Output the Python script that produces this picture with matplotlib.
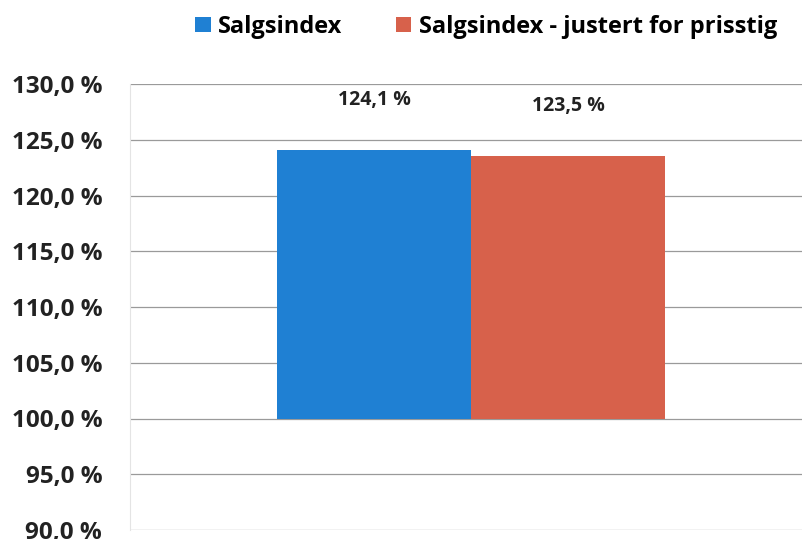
import matplotlib.pyplot as plt
import numpy as np

# verdier lest av figuren
serier = ["Salgsindex", "Salgsindex - justert for prisstig"]
verdier = [124.1, 123.5]
farger = ["#1f80d3", "#d7614b"]
yticks = [90, 95, 100, 105, 110, 115, 120, 125, 130]
basis = 100

plt.rcParams['font.family'] = ['Open Sans', 'DejaVu Sans']
plt.rcParams['font.weight'] = 'bold'

fig = plt.figure(figsize=(8.03, 5.39), dpi=100)
ax = fig.add_axes([130/803, 9/539, 682/803, 446/539])

bredde = 0.569
pos = [-bredde/2, bredde/2]
for i in range(len(serier)):
    ax.bar(pos[i], verdier[i] - basis, bottom=basis, width=bredde,
           color=farger[i], label=serier[i], zorder=3)
    ax.annotate(f"{verdier[i]:.1f} %".replace(".", ","), (pos[i], verdier[i]),
                xytext=(0, 36), textcoords="offset points", ha="center",
                va="center", fontsize=14, fontweight="bold", color="#222222")

ax.set_xlim(-1, 1)
ax.set_ylim(90, 130)
ax.set_yticks(yticks)
ax.set_yticklabels([f"{v:.1f} %".replace(".", ",") for v in yticks],
                   fontsize=17.5, fontweight="bold", color="#222222")
ax.set_xticks([])
ax.tick_params(axis="y", length=0, pad=20)
ax.grid(axis="y", color="#9a9a9a", linewidth=0.9, zorder=0)
for s in ["top", "right", "bottom"]:
    ax.spines[s].set_visible(False)
ax.spines["left"].set_color("#e4e4e4")

fig.legend(loc="upper center", bbox_to_anchor=(486/803, 1.012), ncol=2,
           frameon=False, handlelength=0.65, handleheight=0.65,
           handletextpad=0.3, columnspacing=2.3, prop={"weight": "bold", "size": 17})

fig.savefig("out.png", dpi=100)
